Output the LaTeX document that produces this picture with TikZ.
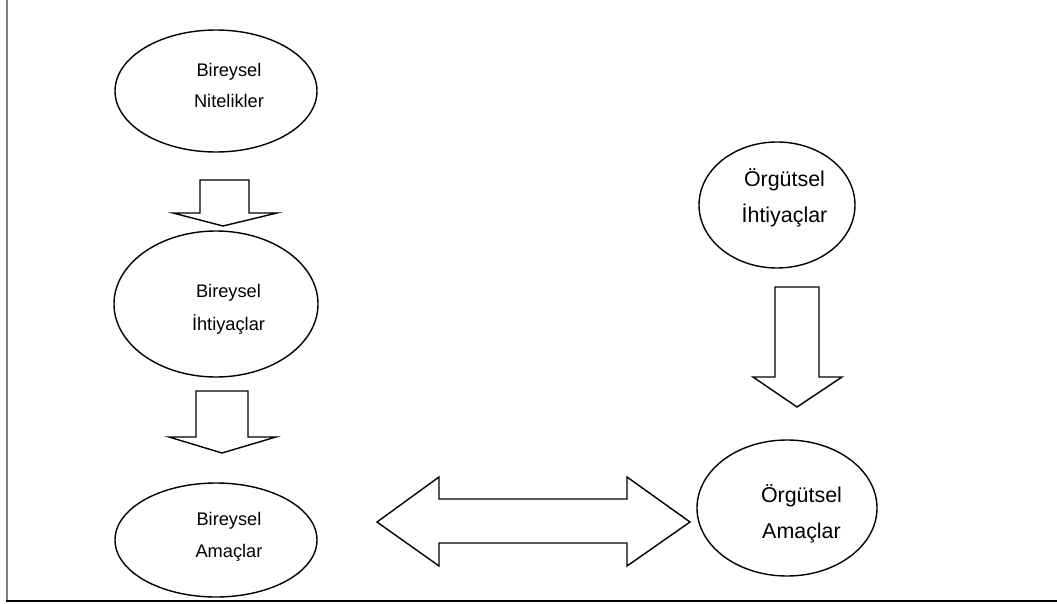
\documentclass[tikz,border=0pt]{standalone}
\usepackage{fontspec}
\setmainfont{Liberation Sans}
\usetikzlibrary{shapes.geometric}
\begin{document}
\begin{tikzpicture}[x=1bp,y=-1bp,
  ell/.style={draw=black,line width=1.4bp,ellipse,inner sep=0pt},
  ltxt/.style={anchor=base,inner sep=0pt,font=\fontsize{18.3}{22}\selectfont},
  rtxt/.style={anchor=base,inner sep=0pt,font=\fontsize{21.5}{26}\selectfont},
  blockarrow/.style={draw=black,line width=1.4bp,line join=miter,fill=white}]
\useasboundingbox (0,0) rectangle (1057,604);
% frame
\draw[line width=2bp,draw=black!50] (6.5,0) -- (6.5,601);
\draw[line width=1.5bp] (6,601) -- (1057,601);
% ellipses
\node[ell,minimum width=202bp,minimum height=122bp] (e1) at (216,91) {};
\node[ell,minimum width=204bp,minimum height=146bp] (e2) at (216,304) {};
\node[ell,minimum width=202bp,minimum height=114bp] (e3) at (216,540) {};
\node[ell,minimum width=156bp,minimum height=126bp] (e4) at (777,205) {};
\node[ell,minimum width=180bp,minimum height=136bp] (e5) at (787,508) {};
% texts
\node[ltxt] (t1a) at (229,76.7) {Bireysel};
\node[ltxt] (t1b) at (229,108) {Nitelikler};
\node[ltxt] (t2a) at (228.5,298) {Bireysel};
\node[ltxt] (t2b) at (228.5,330) {İhtiyaçlar};
\node[ltxt] (t3a) at (229,525) {Bireysel};
\node[ltxt] (t3b) at (229,557) {Amaçlar};
\node[rtxt] (t4a) at (784.5,187) {Örgütsel};
\node[rtxt] (t4b) at (784.5,223) {İhtiyaçlar};
\node[rtxt] (t5a) at (801.5,502) {Örgütsel};
\node[rtxt] (t5b) at (801.5,538) {Amaçlar};
% block arrows
\draw[blockarrow] (200,180) -- (249,180) -- (249,213) -- (277,213) -- (223,226) -- (173,213) -- (200,213) -- cycle;
\draw[blockarrow] (196,391) -- (248,391) -- (248,437) -- (276,437) -- (222,453) -- (169,437) -- (196,437) -- cycle;
\draw[blockarrow] (775,287) -- (819,287) -- (819,377) -- (842,377) -- (797,407) -- (753,377) -- (775,377) -- cycle;
\draw[blockarrow] (377,522) -- (439,477) -- (439,499) -- (627,499) -- (627,477) -- (690,522) -- (627,566) -- (627,543) -- (439,543) -- (439,566) -- cycle;
\end{tikzpicture}
\end{document}
